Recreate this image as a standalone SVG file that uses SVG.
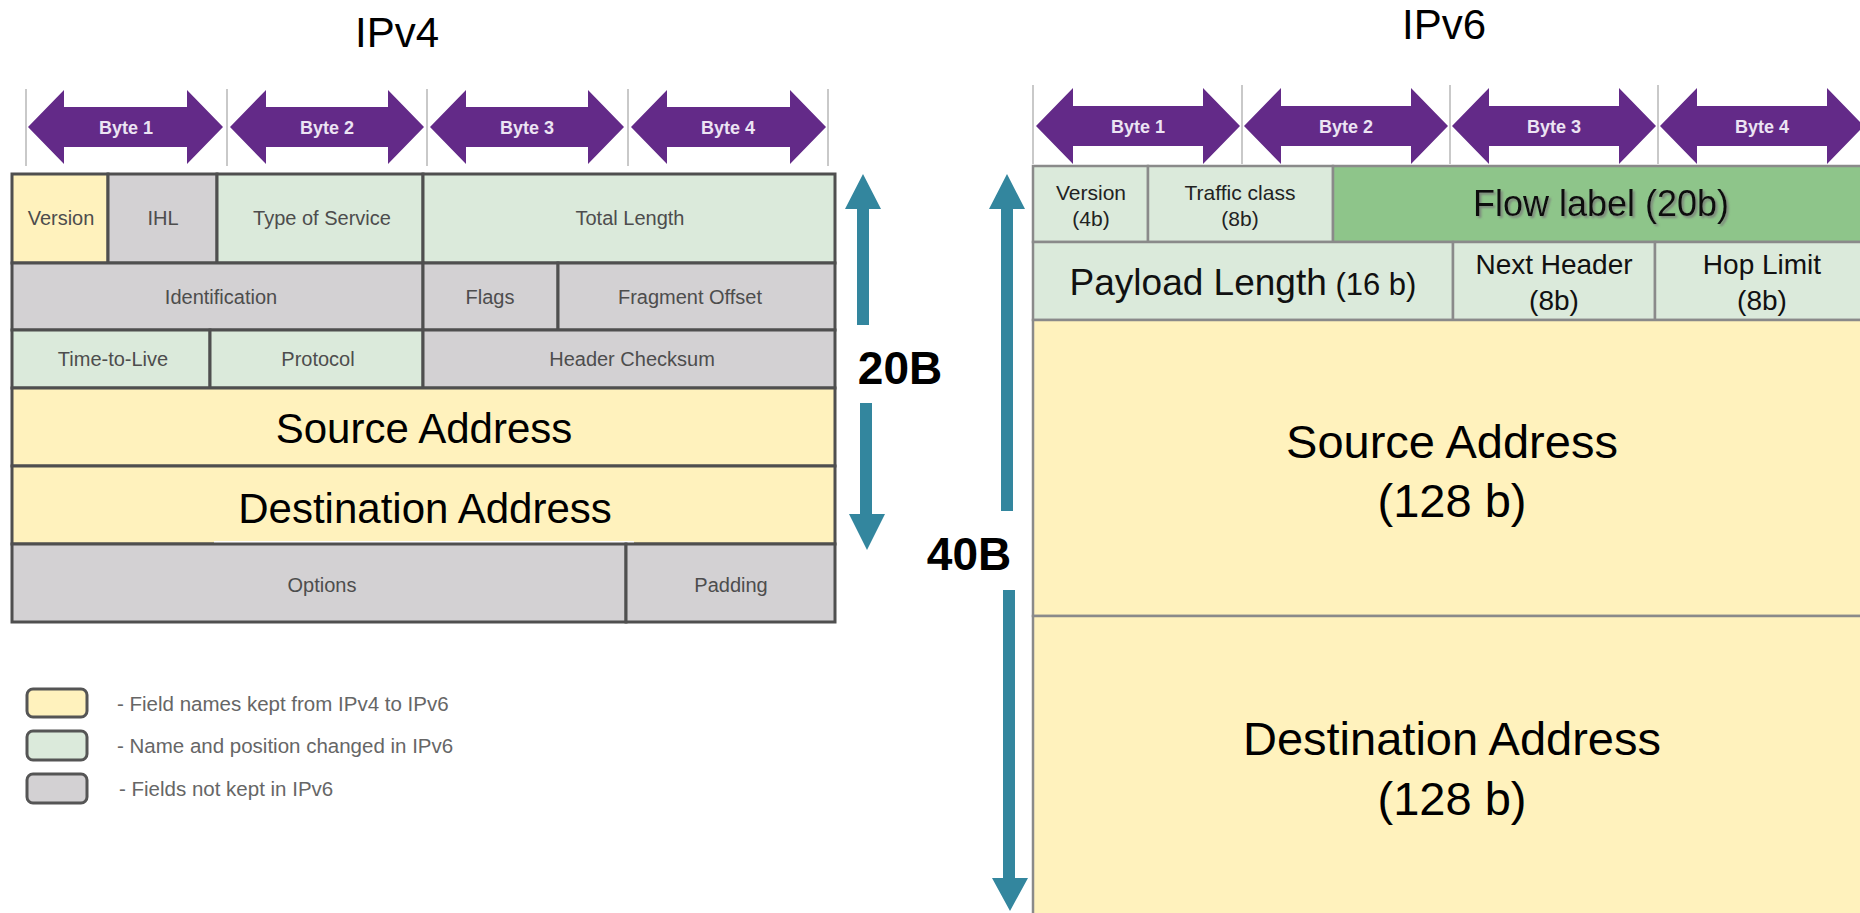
<svg xmlns="http://www.w3.org/2000/svg" width="1860" height="913" viewBox="0 0 1860 913">
  <defs>
    <style>
      .title { font-family: "Liberation Sans", Arial, sans-serif; font-size: 42px; fill: #000; text-anchor: middle; }
      .tick { stroke: #c9c9c9; stroke-width: 2; }
      .byte { fill: #632a88; }
      .bytelbl { font-family: "Liberation Sans", Arial, sans-serif; font-weight: bold; font-size: 18px; fill: #ece4f3; text-anchor: middle; }
      .c4 { stroke: #4f4f4f; stroke-width: 3; }
      .c6 { stroke: #8a8a8a; stroke-width: 2.5; }
      .yel { fill: #fff2bd; }
      .grn { fill: #dbeadb; }
      .gry { fill: #d3d1d3; }
      .flow { fill: #8ec58a; }
      .s4 { font-family: "Liberation Sans", Arial, sans-serif; font-size: 20px; fill: #4d4d4d; text-anchor: middle; }
      .big4 { font-family: "Liberation Sans", Arial, sans-serif; font-size: 42px; fill: #000; text-anchor: middle; }
      .s6 { font-family: "Liberation Sans", Arial, sans-serif; font-size: 21px; fill: #222; text-anchor: middle; }
      .m6 { font-family: "Liberation Sans", Arial, sans-serif; font-size: 28px; fill: #111; text-anchor: middle; }
      .big6 { font-family: "Liberation Sans", Arial, sans-serif; font-size: 47px; fill: #000; text-anchor: middle; }
      .teal { fill: #33869e; }
      .size { font-family: "Liberation Sans", Arial, sans-serif; font-weight: bold; font-size: 46px; fill: #000; text-anchor: middle; }
      .legbox { stroke: #555; stroke-width: 3; }
      .legtxt { font-family: "Liberation Sans", Arial, sans-serif; font-size: 20.5px; fill: #666; }
    </style>
    <filter id="shadow" x="-10%" y="-30%" width="120%" height="160%">
      <feDropShadow dx="2" dy="2" stdDeviation="1" flood-color="#777" flood-opacity="0.8"/>
    </filter>
  </defs>

  <rect width="1860" height="913" fill="#fff"/>

  <!-- Titles -->
  <text class="title" x="397" y="47">IPv4</text>
  <text class="title" x="1444" y="39">IPv6</text>

  <!-- IPv4 byte ruler -->
  <g id="ipv4-bytes">
    <line class="tick" x1="26" y1="89" x2="26" y2="166"/>
    <line class="tick" x1="227" y1="89" x2="227" y2="166"/>
    <line class="tick" x1="427" y1="89" x2="427" y2="166"/>
    <line class="tick" x1="628" y1="89" x2="628" y2="166"/>
    <line class="tick" x1="828" y1="89" x2="828" y2="166"/>
    <path class="byte" d="M28,127 L64,90 L64,107 L187,107 L187,90 L223,127 L187,164 L187,147 L64,147 L64,164 Z"/>
    <path class="byte" d="M230,127 L266,90 L266,107 L388,107 L388,90 L424,127 L388,164 L388,147 L266,147 L266,164 Z"/>
    <path class="byte" d="M430,127 L466,90 L466,107 L588,107 L588,90 L624,127 L588,164 L588,147 L466,147 L466,164 Z"/>
    <path class="byte" d="M631,127 L667,90 L667,107 L790,107 L790,90 L826,127 L790,164 L790,147 L667,147 L667,164 Z"/>
    <text class="bytelbl" x="126" y="134">Byte 1</text>
    <text class="bytelbl" x="327" y="134">Byte 2</text>
    <text class="bytelbl" x="527" y="134">Byte 3</text>
    <text class="bytelbl" x="728" y="134">Byte 4</text>
  </g>

  <!-- IPv4 header fields -->
  <g id="ipv4-version"><rect class="c4 yel" x="12" y="174" width="96" height="89"/><text class="s4" x="61" y="225">Version</text></g>
  <g id="ipv4-ihl"><rect class="c4 gry" x="108" y="174" width="109" height="89"/><text class="s4" x="163" y="225">IHL</text></g>
  <g id="ipv4-tos"><rect class="c4 grn" x="217" y="174" width="206" height="89"/><text class="s4" x="322" y="225">Type of Service</text></g>
  <g id="ipv4-total-length"><rect class="c4 grn" x="423" y="174" width="412" height="89"/><text class="s4" x="630" y="225">Total Length</text></g>

  <g id="ipv4-identification"><rect class="c4 gry" x="12" y="263" width="411" height="67"/><text class="s4" x="221" y="304">Identification</text></g>
  <g id="ipv4-flags"><rect class="c4 gry" x="423" y="263" width="135" height="67"/><text class="s4" x="490" y="304">Flags</text></g>
  <g id="ipv4-fragment-offset"><rect class="c4 gry" x="558" y="263" width="277" height="67"/><text class="s4" x="690" y="304">Fragment Offset</text></g>

  <g id="ipv4-ttl"><rect class="c4 grn" x="12" y="330" width="198" height="58"/><text class="s4" x="113" y="366">Time-to-Live</text></g>
  <g id="ipv4-protocol"><rect class="c4 grn" x="210" y="330" width="213" height="58"/><text class="s4" x="318" y="366">Protocol</text></g>
  <g id="ipv4-checksum"><rect class="c4 gry" x="423" y="330" width="412" height="58"/><text class="s4" x="632" y="366">Header Checksum</text></g>

  <g id="ipv4-source"><rect class="c4 yel" x="12" y="388" width="823" height="78"/><text class="big4" x="424" y="443">Source Address</text></g>
  <g id="ipv4-destination"><rect class="c4 yel" x="12" y="466" width="823" height="78"/><rect x="214" y="541" width="420" height="4" fill="#fff"/><text class="big4" x="425" y="523">Destination Address</text></g>

  <g id="ipv4-options"><rect class="c4 gry" x="12" y="544" width="614" height="78"/><text class="s4" x="322" y="592">Options</text></g>
  <g id="ipv4-padding"><rect class="c4 gry" x="626" y="544" width="209" height="78"/><text class="s4" x="731" y="592">Padding</text></g>

  <!-- Legend -->
  <g id="legend">
    <rect class="legbox yel" x="27" y="689" width="60" height="28" rx="6"/>
    <rect class="legbox grn" x="27" y="731" width="60" height="29" rx="6"/>
    <rect class="legbox gry" x="27" y="774" width="60" height="29" rx="6"/>
    <text class="legtxt" x="117" y="711">- Field names kept from IPv4 to IPv6</text>
    <text class="legtxt" x="117" y="753">- Name and position changed in IPv6</text>
    <text class="legtxt" x="119" y="796">- Fields not kept in IPv6</text>
  </g>

  <!-- IPv6 byte ruler -->
  <g id="ipv6-bytes">
    <line class="tick" x1="1033" y1="85" x2="1033" y2="164"/>
    <line class="tick" x1="1242" y1="85" x2="1242" y2="164"/>
    <line class="tick" x1="1450" y1="85" x2="1450" y2="164"/>
    <line class="tick" x1="1658" y1="85" x2="1658" y2="164"/>
    <path class="byte" d="M1036,126 L1073,88 L1073,106 L1203,106 L1203,88 L1240,126 L1203,164 L1203,146 L1073,146 L1073,164 Z"/>
    <path class="byte" d="M1244,126 L1281,88 L1281,106 L1411,106 L1411,88 L1448,126 L1411,164 L1411,146 L1281,146 L1281,164 Z"/>
    <path class="byte" d="M1452,126 L1489,88 L1489,106 L1619,106 L1619,88 L1656,126 L1619,164 L1619,146 L1489,146 L1489,164 Z"/>
    <path class="byte" d="M1660,126 L1697,88 L1697,106 L1827,106 L1827,88 L1864,126 L1827,164 L1827,146 L1697,146 L1697,164 Z"/>
    <text class="bytelbl" x="1138" y="133">Byte 1</text>
    <text class="bytelbl" x="1346" y="133">Byte 2</text>
    <text class="bytelbl" x="1554" y="133">Byte 3</text>
    <text class="bytelbl" x="1762" y="133">Byte 4</text>
  </g>

  <!-- IPv6 header fields -->
  <g id="ipv6-version"><rect class="c6 grn" x="1033" y="166" width="115" height="76"/><text class="s6" x="1091" y="200">Version</text><text class="s6" x="1091" y="226">(4b)</text></g>
  <g id="ipv6-traffic-class"><rect class="c6 grn" x="1148" y="166" width="185" height="76"/><text class="s6" x="1240" y="200">Traffic class</text><text class="s6" x="1240" y="226">(8b)</text></g>
  <g id="ipv6-flow-label"><rect class="c6 flow" x="1333" y="166" width="540" height="76"/><text class="m6" x="1601" y="216" style="font-size:36px" filter="url(#shadow)">Flow label (20b)</text></g>

  <g id="ipv6-payload-length"><rect class="c6 grn" x="1033" y="242" width="420" height="78"/><text class="m6" x="1243" y="295"><tspan style="font-size:37px">Payload Length</tspan><tspan style="font-size:31px"> (16 b)</tspan></text></g>
  <g id="ipv6-next-header"><rect class="c6 grn" x="1453" y="242" width="202" height="78"/><text class="m6" x="1554" y="274">Next Header</text><text class="m6" x="1554" y="310">(8b)</text></g>
  <g id="ipv6-hop-limit"><rect class="c6 grn" x="1655" y="242" width="218" height="78"/><text class="m6" x="1762" y="274">Hop Limit</text><text class="m6" x="1762" y="310">(8b)</text></g>

  <g id="ipv6-source"><rect class="c6 yel" x="1033" y="320" width="840" height="296"/><text class="big6" x="1452" y="458">Source Address</text><text class="big6" x="1452" y="517">(128 b)</text></g>
  <g id="ipv6-destination"><rect class="c6 yel" x="1033" y="616" width="840" height="300"/><text class="big6" x="1452" y="755">Destination Address</text><text class="big6" x="1452" y="815">(128 b)</text></g>

  <!-- Header size arrows -->
  <g id="size-arrows">
    <polygon class="teal" points="863,174 881,209 869,209 869,325 857,325 857,209 845,209"/>
    <polygon class="teal" points="860,403 872,403 872,514 885,514 867,550 849,514 860,514"/>
    <text class="size" x="900" y="384">20B</text>
    <polygon class="teal" points="1007,174 1025,209 1013,209 1013,511 1001,511 1001,209 989,209"/>
    <polygon class="teal" points="1003,590 1015,590 1015,878 1028,878 1010,911 992,878 1003,878"/>
    <text class="size" x="969" y="570">40B</text>
  </g>
</svg>
